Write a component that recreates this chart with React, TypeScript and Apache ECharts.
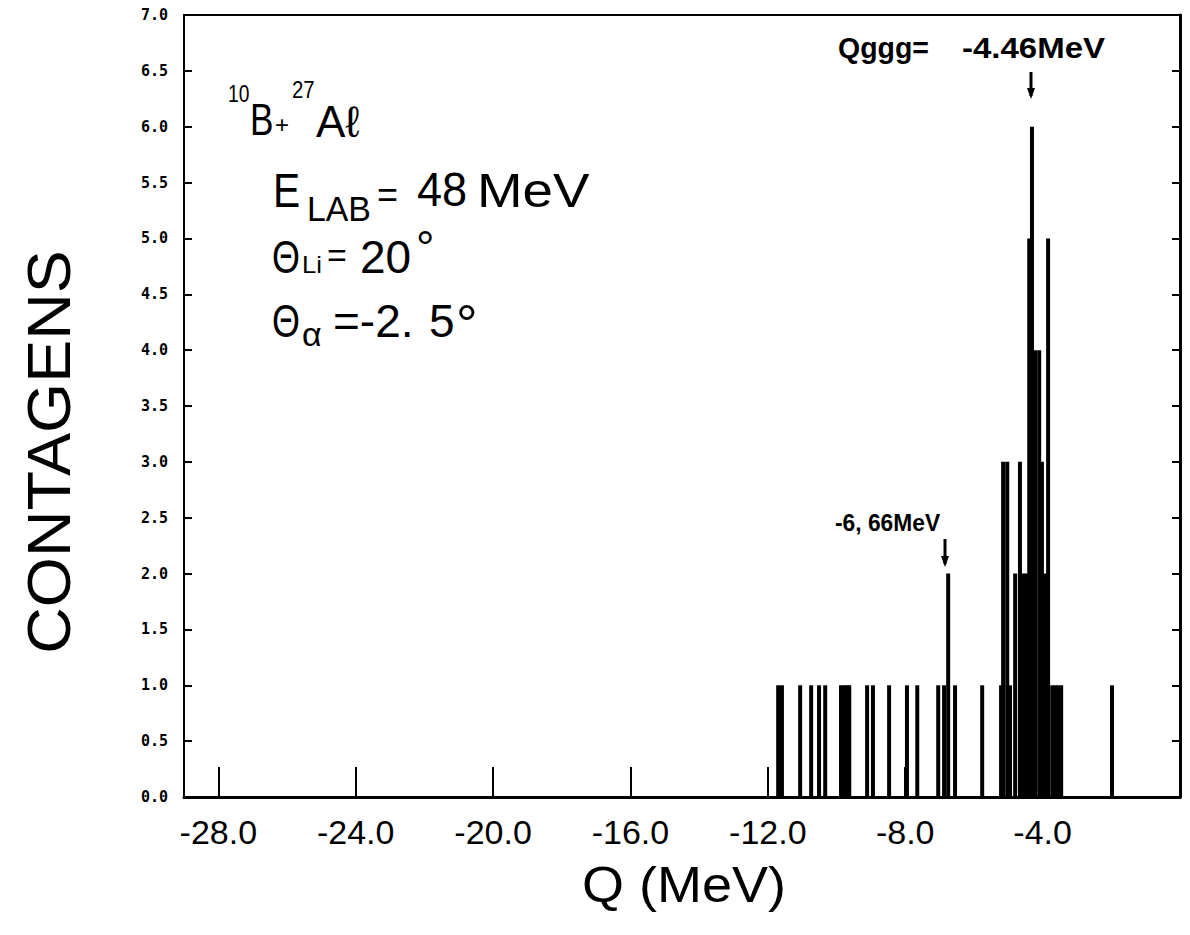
import React, { useEffect, useRef } from "react";
import * as echarts from "echarts";

// Q positions (MeV) of the counted events and their counts
const peakQ = [
  -11.70, -11.59, -11.06, -10.74, -10.51, -10.33, -9.87, -9.78, -9.70, -9.63,
  -9.11, -8.94, -8.47, -7.95, -7.65, -7.04, -6.87, -6.75, -6.55, -5.76,
  -5.21, -5.15, -5.03, -4.95, -4.80, -4.66, -4.57, -4.48, -4.39, -4.31,
  -4.22, -4.10, -4.02, -3.93, -3.84, -3.72, -3.64, -3.55, -3.46, -1.98,
];
const peakCounts = [
  1, 1, 1, 1, 1, 1, 1, 1, 1, 1,
  1, 1, 1, 1, 1, 1, 1, 2, 1, 1,
  1, 3, 3, 1, 2, 3, 2, 2, 5, 6,
  4, 4, 3, 2, 5, 1, 1, 1, 1, 1,
];
const xTicks = [-28, -24, -20, -16, -12, -8, -4];
const xRange = [-29, 0];
const yRange = [0, 7];
const yStep = 0.5;

const SANS = '"Liberation Sans", "DejaVu Sans", sans-serif';

function txt(text: string, x: number, y: number, size: number, opts: any = {}) {
  return {
    type: "text",
    x,
    y,
    scaleX: opts.scaleX ?? 1,
    rotation: opts.rotation ?? 0,
    style: {
      text,
      font: `${opts.bold ? "bold " : ""}${size}px ${opts.family ?? SANS}`,
      fill: "#000",
      textAlign: opts.align ?? "left",
      textVerticalAlign: "middle",
    },
  };
}

export default function App() {
  const ref = useRef<HTMLDivElement>(null);
  useEffect(() => {
    if (!ref.current) return;
    const chart = echarts.init(ref.current, null, { renderer: "svg" });
    const data = peakQ.map((q, i) => [q, peakCounts[i]]);
    const yAxisBase = {
      type: "value",
      min: yRange[0],
      max: yRange[1],
      interval: yStep,
      position: "left",
      splitLine: { show: false },
    };
    chart.setOption({
      animation: false,
      backgroundColor: "#fff",
      grid: {
        left: 184,
        right: 10,
        top: 15,
        bottom: 138,
        show: true,
        borderColor: "#000",
        borderWidth: 2,
        containLabel: false,
      },
      xAxis: {
        type: "value",
        min: xRange[0],
        max: xRange[1],
        splitLine: { show: false },
        axisLine: { lineStyle: { color: "#000", width: 3 } },
        axisTick: {
          inside: true,
          length: 30,
          customValues: xTicks,
          lineStyle: { color: "#000", width: 2 },
        },
        axisLabel: {
          customValues: xTicks,
          formatter: (v: number) => v.toFixed(1),
          fontFamily: SANS,
          fontSize: 34,
          color: "#000",
          margin: 18,
        },
      },
      yAxis: [
        {
          ...yAxisBase,
          axisLine: { show: true, lineStyle: { color: "#000", width: 3 } },
          axisTick: { show: true, length: 8, lineStyle: { color: "#000", width: 2 } },
          axisLabel: {
            formatter: (v: number) => v.toFixed(1),
            fontFamily: '"DejaVu Sans Mono", monospace',
            fontWeight: "bold",
            fontSize: 15,
            color: "#000",
            margin: 16,
          },
        },
        {
          ...yAxisBase,
          axisLine: { show: false },
          axisTick: { show: true, inside: true, length: 8, lineStyle: { color: "#000", width: 2 } },
          axisLabel: { show: false },
        },
      ],
      series: [
        {
          type: "bar",
          data,
          barWidth: 4,
          xAxisIndex: 0,
          yAxisIndex: 0,
          itemStyle: { color: "#000" },
        },
      ],
      graphic: [
        // axis titles
        txt("CONTAGENS", 48, 452, 62, { rotation: Math.PI / 2, align: "center", scaleX: 1.04 }),
        txt("Q (MeV)", 684, 885, 50, { align: "center", scaleX: 1.08 }),
        // reaction
        txt("10", 228, 94, 24, { scaleX: 0.8 }),
        txt("B", 250, 120, 44, { scaleX: 0.8 }),
        txt("+", 275, 124, 24),
        txt("27", 292, 90, 24, { scaleX: 0.85 }),
        txt("Aℓ", 316, 121, 44),
        // E lab
        txt("E", 273, 190, 48, { scaleX: 0.85 }),
        txt("LAB", 307, 208, 36, { scaleX: 0.94 }),
        txt("=", 377, 194, 36),
        txt("48", 417, 190, 48, { scaleX: 0.94 }),
        txt("MeV", 477, 190, 48, { scaleX: 1.14 }),
        // theta Li
        txt("Θ", 272, 257, 46, { scaleX: 0.78 }),
        txt("Li", 302, 265, 24, { scaleX: 1.07 }),
        txt("=", 327, 255, 34),
        txt("20", 360, 257, 46),
        txt("°", 416, 248, 46),
        // theta alpha
        txt("Θ", 272, 321, 46, { scaleX: 0.78 }),
        txt("α", 302, 334, 34),
        txt("=-2.", 333, 321, 46),
        txt("5", 429, 321, 46),
        txt("°", 456, 324, 54),
        // peak annotations
        txt("Qggg=", 838, 48, 30, { bold: true, scaleX: 0.95 }),
        txt("-4.46MeV", 962, 48, 30, { bold: true, scaleX: 1.1 }),
        { type: "line", shape: { x1: 1031, y1: 72, x2: 1031, y2: 96 }, style: { stroke: "#000", lineWidth: 3 } },
        { type: "polygon", shape: { points: [[1027, 88], [1035, 88], [1031, 99]] }, style: { fill: "#000" } },
        txt("-6, 66MeV", 835, 523, 24, { bold: true, scaleX: 0.95 }),
        { type: "line", shape: { x1: 945, y1: 539, x2: 945, y2: 564 }, style: { stroke: "#000", lineWidth: 3 } },
        { type: "polygon", shape: { points: [[941, 556], [949, 556], [945, 567]] }, style: { fill: "#000" } },
      ],
    });
    return () => chart.dispose();
  }, []);
  return (
    <div
      ref={ref}
      style={{ position: "fixed", left: 0, top: 0, width: 1190, height: 935, background: "#fff" }}
    />
  );
}
